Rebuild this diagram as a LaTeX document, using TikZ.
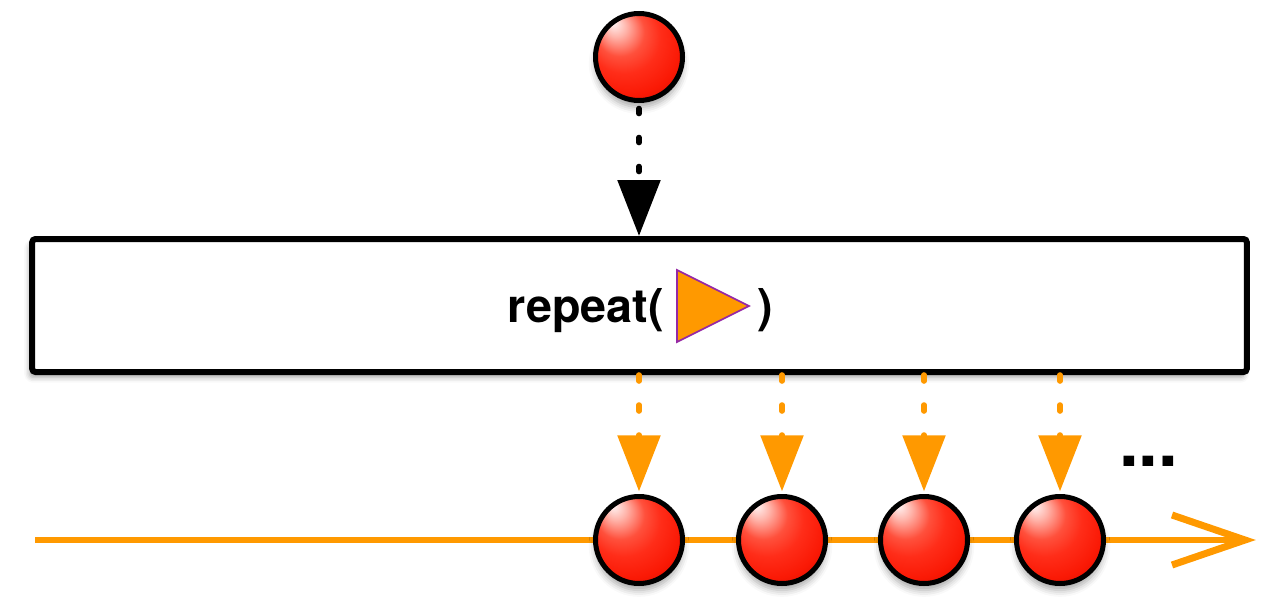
\documentclass[tikz,border=0pt]{standalone}
\usepackage{fontspec}
\setmainfont{TeX Gyre Heros}
\usetikzlibrary{arrows.meta}
\usetikzlibrary{shadows.blur}
\usetikzlibrary{calc}

\definecolor{rxorange}{RGB}{255,153,0}
\definecolor{rxpurple}{RGB}{150,40,165}
\definecolor{rxred}{RGB}{255,20,0}

\pgfdeclareradialshading{marbleshade}{\pgfpoint{-15bp}{20bp}}{%
  color(0bp)=(rgb,255:red,255;green,245;blue,245);
  color(6bp)=(rgb,255:red,255;green,180;blue,170);
  color(14bp)=(rgb,255:red,255;green,80;blue,60);
  color(21bp)=(rgb,255:red,255;green,45;blue,25);
  color(30bp)=(rgb,255:red,250;green,25;blue,5);
  color(36bp)=(rgb,255:red,225;green,15;blue,0);
  color(41bp)=(rgb,255:red,140;green,0;blue,0);
  color(50bp)=(rgb,255:red,90;green,0;blue,0)}

\tikzset{
  marble/.style={circle, draw=black, line width=3.75pt, minimum size=65.25pt, inner sep=0pt,
    shading=marbleshade, blur shadow={shadow xshift=0pt, shadow yshift=-5pt, shadow blur radius=5pt, shadow opacity=35}},
  opbox/.style={draw=black, line width=4.5pt, rounded corners=2.5pt, fill=white,
    minimum width=911pt, minimum height=99.75pt, inner sep=0pt,
    blur shadow={shadow xshift=-2pt, shadow yshift=-4pt, shadow blur radius=4pt, shadow opacity=35}},
  blackdots/.style={draw=black, line width=4.2pt, line cap=round, dash pattern=on 3.75pt off 18pt, dash phase=17.6pt,
    -{Triangle[width=31.5pt, length=42pt]}},
  orangedots/.style={draw=rxorange, line width=4.2pt, line cap=round, dash pattern=on 4.5pt off 18pt,
    -{Triangle[width=31.5pt, length=42pt]}, shorten >=2pt},
  timeline/.style={draw=rxorange, line width=4.5pt},
  optext/.style={font=\fontsize{35}{42}\selectfont\bfseries, inner sep=0pt}
}

\begin{document}
\begin{tikzpicture}[x=0.75pt,y=0.75pt,yscale=-1,xscale=1]
\useasboundingbox (0,0) rectangle (1280,610);

%Shape: Timeline
\coordinate (tl-start) at (35,540);
\coordinate (tl-end) at (1245,540);
\draw [timeline] (tl-start) -- (tl-end);
\draw [timeline, line width=5.25pt, line join=miter] ($(tl-end)+(-73,-25)$) -- (tl-end) -- ($(tl-end)+(-73,25)$);

%Shape: Circle
\node [marble] (top) at (639,57) {};

%Shape: Operator Box
\node [opbox] (op) at (639.5,305.5) {};

% Text Node
\node [optext, anchor=base east] (rep) at (664,322) {repeat(};
%Shape: Triangle
\draw [fill=rxorange, draw=rxpurple, line width=1.2pt] (677,270) -- (749,306) -- (677,342) -- cycle;
% Text Node
\node [optext, anchor=base west] (close) at (757,322) {)};

%Shape: Circle
\node [marble] (b1) at (639,540) {};
\node [marble] (b2) at (782,540) {};
\node [marble] (b3) at (924,540) {};
\node [marble] (b4) at (1060,540) {};

%Straight Lines
\draw [blackdots] (top) -- (op.north -| top);
\foreach \b in {b1,b2,b3,b4}
  \draw [orangedots] (op.south -| \b) -- (\b.north);

% Text Node
\node [optext, font=\fontsize{53}{60}\selectfont\bfseries, anchor=base west] (more) at (1119,466) {...};

\end{tikzpicture}
\end{document}
